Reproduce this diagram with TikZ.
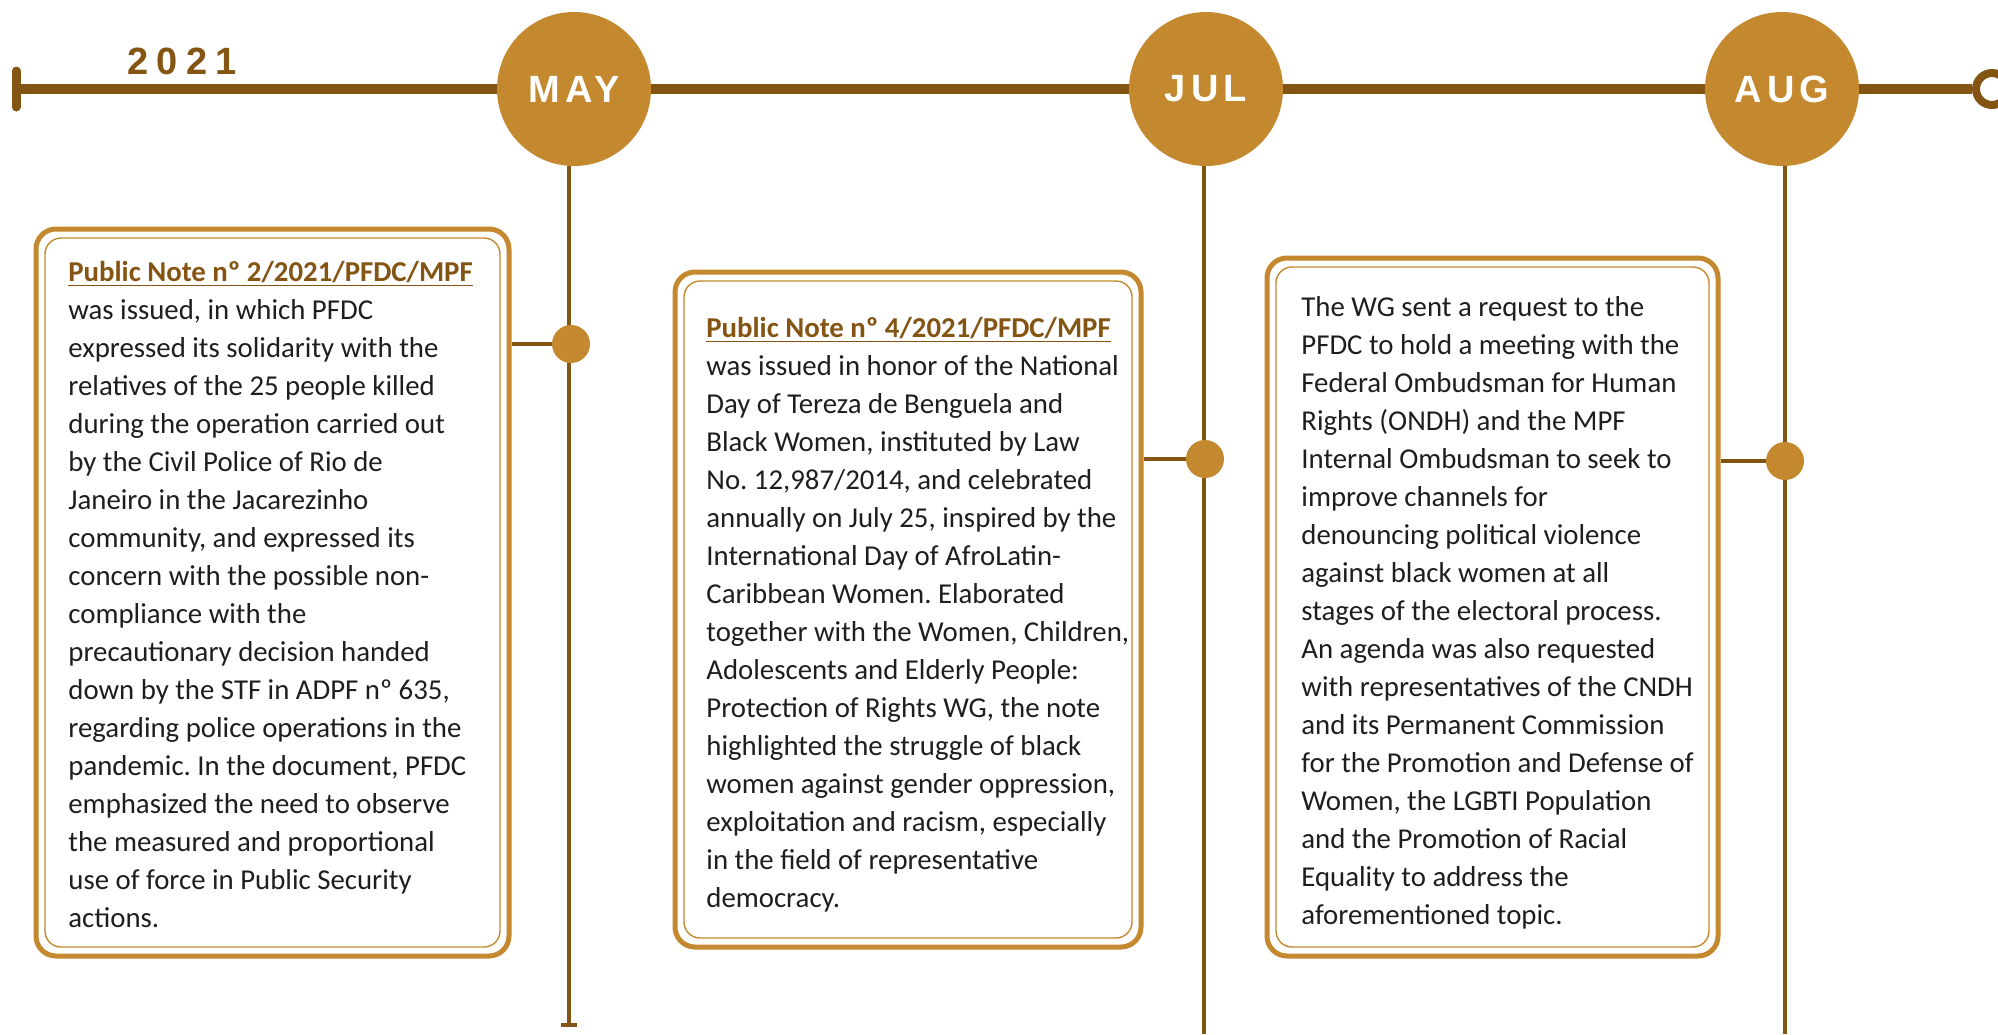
\documentclass[tikz,border=0pt]{standalone}
\usepackage{fontspec}
\setmainfont{Carlito}
\newfontfamily\monthfont[LetterSpace=14]{Liberation Sans}
\newfontfamily\yearfont[LetterSpace=22]{Liberation Sans}
\usetikzlibrary{fit}
\definecolor{gold}{HTML}{C4882E}
\definecolor{darkgold}{HTML}{845412}
\definecolor{ink}{HTML}{1E1E1E}
\newcommand\notehead[1]{{\bfseries\color{darkgold}\underline{#1}}}
\frenchspacing

\begin{document}
\begin{tikzpicture}[x=0.5pt,y=-0.5pt]
    \tikzstyle{month}=[circle, fill=gold, minimum size=77pt, inner sep=0, text=white, font=\monthfont\bfseries\fontsize{19}{19}\selectfont];
    \tikzstyle{dot}=[circle, fill=gold, minimum size=19pt, inner sep=0];
    \tikzstyle{outerbox}=[draw=gold, line width=2.5pt, rounded corners=10pt, inner sep=0];
    \tikzstyle{innerbox}=[draw=gold, line width=0.7pt, rounded corners=8pt, inner sep=0];
    \tikzstyle{note}=[anchor=north west, inner sep=0, align=left, text=ink, font=\fontsize{14.4}{19}\selectfont];
    \tikzstyle{stem}=[darkgold, line width=2pt];
    \useasboundingbox[fill=white] (0,0) rectangle (1998,1034);

    \coordinate (start) at (16,89);
    \node[circle, draw=darkgold, line width=4pt, fill=white, minimum size=16pt, inner sep=0] (ring) at (1992,89) {};
    \draw[darkgold, line width=5pt] (start) -- (ring.west);
    \draw[darkgold, line width=4.5pt, line cap=round] ([yshift=9pt]start) -- ([yshift=-9pt]start);
    \node[anchor=base west, inner sep=0, text=darkgold, font=\yearfont\bfseries\fontsize{19}{19}\selectfont] (year) at (127,74) {2021};

    \node[month] (may) at (574,89) {MAY};
    \node[month] (jul) at (1206,89) {JUL};
    \node[month] (aug) at (1782,89) {AUG};

    \coordinate (e1) at (569,1025);
    \coordinate (e2) at (1204,1034);
    \coordinate (e3) at (1785,1034);
    \draw[stem] (may.south -| e1) -- (e1);
    \draw[stem] ([xshift=-4pt]e1) -- ([xshift=4pt]e1);
    \draw[stem] (jul.south -| e2) -- (e2);
    \draw[stem] (aug.south -| e3) -- (e3);

    \node[outerbox, fit={(36,229) (509,956)}] (box1) {};
    \node[innerbox, fit={(45,238) (500,947)}] (in1) {};
    \node[outerbox, fit={(675,272) (1141,947)}] (box2) {};
    \node[innerbox, fit={(684,281) (1132,938)}] (in2) {};
    \node[outerbox, fit={(1267,258) (1718,956)}] (box3) {};
    \node[innerbox, fit={(1276,267) (1709,947)}] (in3) {};

    \node[dot] (d1) at (571,344) {};
    \node[dot] (d2) at (1205,459) {};
    \node[dot] (d3) at (1785,461) {};
    \draw[stem] (box1.east |- d1) -- (d1);
    \draw[stem] (box2.east |- d2) -- (d2);
    \draw[stem] (box3.east |- d3) -- (d3);

    \node[note] (t1) at (68,254) {\strut\notehead{Public Note nº 2/2021/PFDC/MPF}\\
        was issued, in which PFDC\\
        expressed its solidarity with the\\
        relatives of the 25 people killed\\
        during the operation carried out\\
        by the Civil Police of Rio de\\
        Janeiro in the Jacarezinho\\
        community, and expressed its\\
        concern with the possible non-\\
        compliance with the\\
        precautionary decision handed\\
        down by the STF in ADPF nº 635,\\
        regarding police operations in the\\
        pandemic. In the document, PFDC\\
        emphasized the need to observe\\
        the measured and proportional\\
        use of force in Public Security\\
        actions.};
    \node[note] (t2) at (706,310) {\strut\notehead{Public Note nº 4/2021/PFDC/MPF}\\
        was issued in honor of the National\\
        Day of Tereza de Benguela and\\
        Black Women, instituted by Law\\
        No. 12,987/2014, and celebrated\\
        annually on July 25, inspired by the\\
        International Day of AfroLatin-\\
        Caribbean Women. Elaborated\\
        together with the Women, Children,\\
        Adolescents and Elderly People:\\
        Protection of Rights WG, the note\\
        highlighted the struggle of black\\
        women against gender oppression,\\
        exploitation and racism, especially\\
        in the field of representative\\
        democracy.};
    \node[note] (t3) at (1301,289) {\strut The WG sent a request to the\\
        PFDC to hold a meeting with the\\
        Federal Ombudsman for Human\\
        Rights (ONDH) and the MPF\\
        Internal Ombudsman to seek to\\
        improve channels for\\
        denouncing political violence\\
        against black women at all\\
        stages of the electoral process.\\
        An agenda was also requested\\
        with representatives of the CNDH\\
        and its Permanent Commission\\
        for the Promotion and Defense of\\
        Women, the LGBTI Population\\
        and the Promotion of Racial\\
        Equality to address the\\
        aforementioned topic.};
\end{tikzpicture}
\end{document}
